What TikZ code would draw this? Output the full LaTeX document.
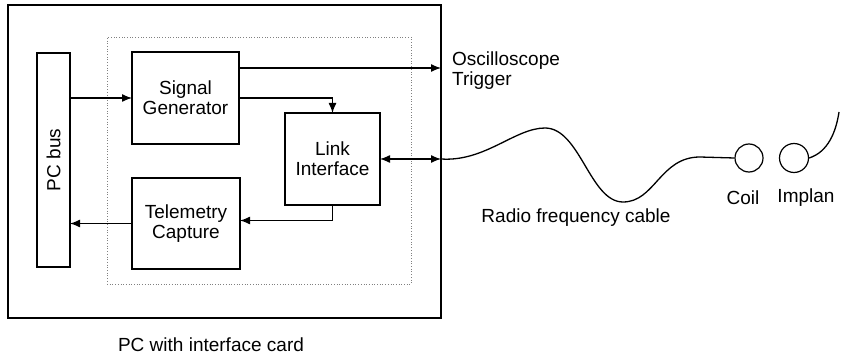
\documentclass[tikz,border=0pt]{standalone}
\usepackage{fontspec}
\setmainfont{Liberation Sans}
\usetikzlibrary{arrows.meta,positioning,calc}

\begin{document}
\begin{tikzpicture}[x=1pt,y=-1pt,font=\fontsize{19}{20}\selectfont,
  >={Latex[length=10pt,width=8pt]},
  blk/.style={draw,line width=1.4pt,outer sep=0pt,align=center},
  wire/.style={line width=1.3pt}]
  \useasboundingbox (0,0) rectangle (841,358);
  \node[blk,line width=1.7pt,minimum width=433pt,minimum height=313pt] (pc) at (224.5,161.5) {};
  \node[draw,dotted,gray,line width=.7pt,outer sep=0pt,minimum width=304pt,minimum height=247pt] (card) at (259,160.5) {};
  \node[blk,minimum width=33pt,minimum height=214pt] (bus) at (53.5,160) {};
  \node[rotate=90] at (bus) {PC bus};
  \node[blk,minimum width=107pt,minimum height=92pt] (sg) at (185.5,98) {Signal\\Generator};
  \node[blk,minimum width=108pt,minimum height=91pt] (tc) at (186,223.5) {Telemetry\\Capture};
  \node[blk,minimum width=95pt,minimum height=92pt] (link) at (332.5,159) {Link\\Interface};
  \coordinate (trig) at (pc.east |- 0,68);
  \coordinate (rf) at (link.east -| pc.east);
  \draw[wire,->] (bus.east |- sg.west) -- (sg.west);
  \draw[wire,->] (sg.east |- trig) -- (trig);
  \draw[wire,->] (sg.east) -| (link.north);
  \draw[wire,<->] (link.east) -- (rf);
  \draw[wire,->] (link.south) |- ([yshift=3pt]tc.east);
  \draw[wire,->] (tc.west) -- (tc.west -| bus.east);
  % cable, coil and implant
  \node[draw,circle,line width=1.2pt,minimum size=28pt] (coil) at (749,158) {};
  \node[draw,circle,line width=1.2pt,minimum size=29pt] (imp) at (794,158) {};
  \coordinate (lead) at (839,112);
  \draw[wire] (rf) .. controls (485,162) and (515,128) .. (545,128)
    .. controls (580,128) and (590,202) .. (623,202)
    .. controls (655,202) and (660,157) .. (700,157) -- (coil.west);
  \draw[wire] (imp.east) .. controls (828,152) and (836,132) .. (lead);
  \node at (211,345) {PC with interface card};
  \node[anchor=west,align=left,inner sep=0pt] at (452,71) {Oscilloscope\\Trigger};
  \node at (576,218) {Radio frequency cable};
  \node at (743,198) {Coil};
  \node at (806,198) {Implan};
\end{tikzpicture}
\end{document}
